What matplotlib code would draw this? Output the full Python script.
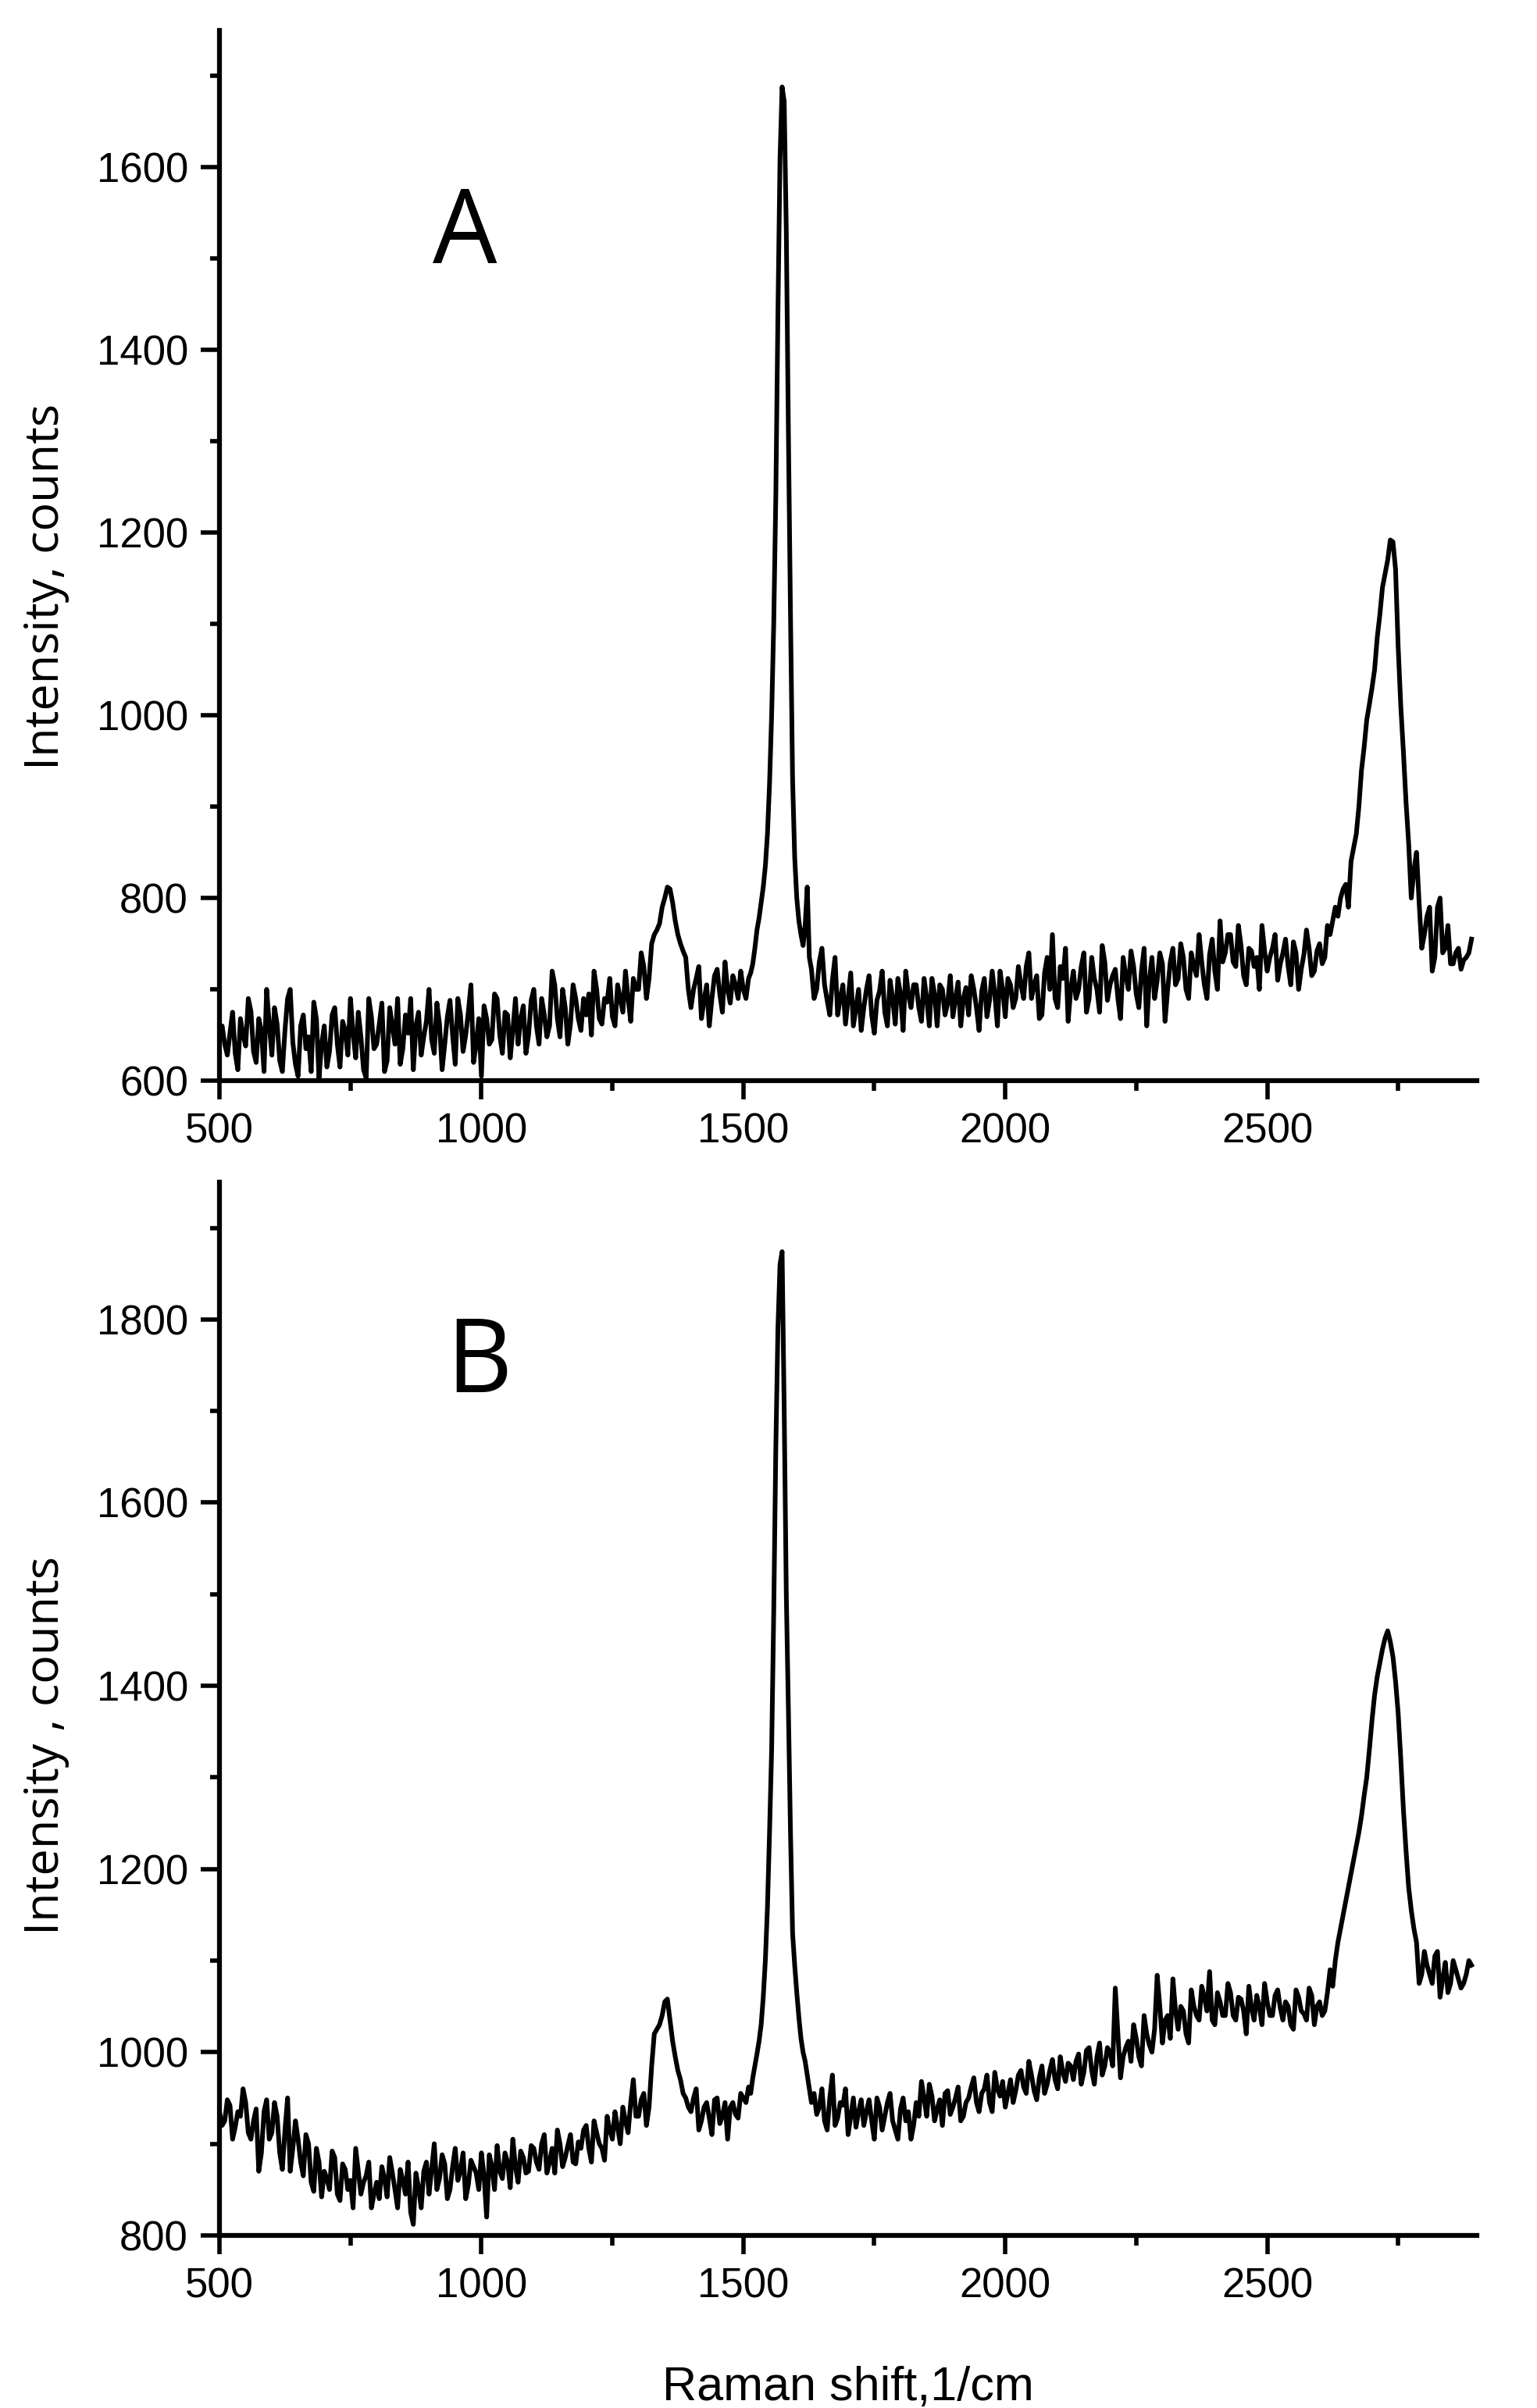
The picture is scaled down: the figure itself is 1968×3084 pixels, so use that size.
import numpy as np
import matplotlib
matplotlib.use("Agg")
import matplotlib.pyplot as plt
from matplotlib.ticker import MultipleLocator

# Raman shift grid (1/cm): baseline every 10, in-between samples offset by 5,
# finer sampling across the G band
shift_lo = np.arange(500, 1520, 10)
shift_lo_mid = np.arange(505, 1515, 10)
shift_g = np.arange(1514, 1630, 4)
shift_hi = np.arange(1630, 2900, 10)
shift_hi_mid = np.arange(1635, 2895, 10)

# Spectrum A (counts)
a_lo = [645, 640, 652, 630, 668, 638, 676, 620, 655, 700,
        628, 662, 610, 690, 642, 605, 672, 648, 686, 603,
        660, 632, 680, 615, 655, 690, 625, 648, 603, 670,
        640, 685, 622, 660, 690, 635, 652, 612, 675, 648,
        700, 630, 662, 640, 688, 618, 672, 650, 705, 640,
        605, 668, 645, 690, 630, 672, 655, 640, 682, 650,
        700, 640, 672, 660, 705, 648, 680, 662, 690, 655,
        672, 650, 700, 662, 686, 670, 705, 675, 690, 712,
        700, 725, 712, 760, 772, 800, 810, 775, 750, 735,
        680, 712, 668, 705, 690, 722, 675, 700, 715, 690,
        700, 712]
a_lo_mid = [660, 628, 675, 612, 650, 690, 632, 668, 610, 662,
            680, 622, 655, 700, 618, 660, 635, 610, 668, 640,
            615, 672, 640, 665, 628, 652, 675, 612, 690, 635,
            662, 610, 680, 640, 618, 672, 690, 660, 628, 665,
            645, 685, 612, 670, 650, 690, 632, 675, 620, 668,
            682, 640, 695, 650, 675, 625, 690, 668, 630, 688,
            660, 690, 648, 720, 668, 700, 640, 705, 668, 690,
            695, 720, 668, 690, 712, 660, 690, 720, 665, 700,
            740, 690, 750, 765, 790, 812, 795, 760, 742, 700,
            700, 725, 688, 660, 715, 695, 730, 685, 705, 720,
            690]
a_g = [718, 728, 745, 765, 778, 795, 812, 835, 870, 925,
       1000, 1100, 1240, 1440, 1610, 1688, 1672, 1530, 1310, 1110,
       930, 845, 800, 775, 760, 748, 770, 812, 735]
a_hi = [722, 700, 745, 688, 710, 672, 705, 690, 660, 700,
        680, 715, 652, 698, 675, 710, 662, 695, 720, 680,
        705, 665, 690, 712, 660, 700, 685, 670, 708, 690,
        672, 700, 655, 712, 688, 695, 720, 670, 705, 690,
        705, 725, 690, 715, 672, 735, 760, 680, 712, 665,
        720, 700, 740, 690, 712, 675, 730, 705, 722, 668,
        715, 742, 695, 720, 660, 735, 710, 728, 700, 745,
        712, 735, 690, 725, 760, 705, 738, 720, 775, 740,
        760, 725, 748, 705, 742, 735, 770, 720, 745, 710,
        740, 725, 752, 700, 738, 745, 720, 750, 735, 760,
        790, 800, 815, 840, 870, 940, 995, 1030, 1085, 1140,
        1170, 1190, 1075, 960, 860, 830, 795, 760, 790, 735,
        800, 745, 728, 740, 722, 735, 755]
a_hi_mid = [690, 730, 705, 672, 735, 690, 662, 718, 680, 655,
            700, 672, 688, 720, 660, 690, 712, 655, 695, 705,
            680, 712, 660, 695, 705, 672, 715, 690, 660, 702,
            715, 680, 698, 670, 720, 660, 700, 712, 680, 725,
            690, 740, 705, 668, 718, 700, 690, 725, 745, 700,
            690, 725, 675, 735, 700, 748, 688, 715, 690, 735,
            700, 725, 680, 745, 710, 690, 740, 665, 730, 705,
            750, 700, 740, 715, 730, 690, 755, 700, 730, 760,
            730, 770, 715, 745, 725, 700, 742, 735, 760, 728,
            755, 705, 740, 722, 765, 715, 742, 728, 770, 775,
            780, 810, 790, 855, 900, 965, 1012, 1050, 1110, 1155,
            1192, 1160, 1010, 905, 800, 850, 745, 780, 720, 790,
            740, 770, 728, 745, 732, 740]

# Spectrum B (counts)
b_lo = [935, 925, 942, 918, 930, 945, 905, 938, 890, 948,
        912, 930, 872, 950, 895, 905, 865, 900, 848, 880,
        870, 850, 885, 838, 872, 860, 895, 845, 865, 830,
        858, 875, 842, 868, 830, 860, 880, 812, 852, 870,
        845, 900, 862, 878, 850, 895, 870, 840, 882, 868,
        890, 820, 875, 898, 862, 880, 905, 858, 885, 870,
        895, 872, 910, 880, 868, 900, 885, 910, 878, 895,
        920, 880, 912, 895, 930, 905, 918, 940, 912, 970,
        930, 955, 940, 1020, 1030, 1055, 1035, 995, 970, 950,
        935, 960, 925, 945, 910, 950, 930, 905, 945, 928,
        950, 962]
b_lo_mid = [920, 948, 905, 935, 960, 912, 925, 870, 935, 905,
            945, 890, 915, 870, 925, 880, 910, 858, 895, 842,
            862, 892, 845, 878, 850, 830, 870, 858, 880, 845,
            840, 862, 885, 850, 872, 845, 825, 868, 830, 880,
            872, 850, 888, 840, 875, 860, 890, 855, 875, 850,
            865, 888, 850, 870, 890, 852, 875, 892, 868, 898,
            880, 900, 868, 895, 915, 875, 898, 880, 902, 915,
            895, 925, 900, 882, 915, 935, 900, 925, 945, 930,
            948, 920, 985, 1025, 1040, 1058, 1012, 980, 955, 940,
            950, 915, 940, 928, 948, 922, 945, 940, 932, 955,
            945]
b_g = [955, 972, 985, 998, 1012, 1030, 1060, 1100, 1158, 1240,
       1330, 1480, 1660, 1790, 1860, 1874, 1700, 1500, 1374, 1240,
       1130, 1095, 1065, 1038, 1015, 1000, 990, 975, 960]
b_hi = [945, 932, 960, 915, 975, 928, 942, 910, 950, 935,
        920, 948, 905, 940, 930, 955, 915, 938, 925, 905,
        945, 968, 930, 952, 938, 920, 958, 940, 962, 930,
        950, 972, 935, 960, 945, 978, 952, 940, 970, 958,
        980, 955, 975, 948, 985, 965, 992, 960, 978, 988,
        970, 998, 978, 1005, 965, 1010, 985, 1000, 1070, 972,
        1005, 990, 1015, 985, 1020, 1000, 1084, 1010, 1040, 1080,
        1025, 1045, 1010, 1050, 1035, 1060, 1088, 1030, 1055, 1040,
        1065, 1035, 1058, 1020, 1048, 1062, 1030, 1055, 1040, 1068,
        1035, 1050, 1025, 1060, 1042, 1070, 1030, 1055, 1045, 1090,
        1100, 1135, 1165, 1195, 1225, 1258, 1300, 1362, 1410, 1440,
        1460, 1432, 1370, 1265, 1180, 1135, 1075, 1110, 1085, 1105,
        1060, 1098, 1075, 1090, 1070, 1085, 1095]
b_hi_mid = [955, 940, 925, 950, 920, 945, 960, 930, 918, 948,
            935, 925, 950, 915, 945, 925, 905, 950, 935, 920,
            930, 950, 965, 925, 948, 955, 932, 950, 925, 945,
            962, 945, 955, 975, 935, 960, 968, 955, 945, 975,
            962, 990, 958, 972, 955, 980, 970, 995, 968, 985,
            990, 965, 1002, 980, 995, 975, 1005, 985, 1020, 995,
            1012, 1030, 995, 1040, 1008, 1025, 1050, 1035, 1015, 1045,
            1050, 1020, 1068, 1040, 1072, 1045, 1035, 1065, 1040, 1075,
            1040, 1060, 1045, 1072, 1035, 1050, 1075, 1040, 1062, 1048,
            1055, 1030, 1068, 1045, 1035, 1062, 1050, 1040, 1065, 1072,
            1120, 1150, 1180, 1210, 1240, 1280, 1330, 1390, 1425, 1452,
            1448, 1405, 1320, 1220, 1155, 1120, 1085, 1095, 1075, 1110,
            1080, 1065, 1100, 1080, 1075, 1100]

shift = np.concatenate([shift_lo, shift_lo_mid, shift_g, shift_hi, shift_hi_mid])
order = np.argsort(shift, kind="stable")
shift = shift[order]
spec_a = np.concatenate([a_lo, a_lo_mid, a_g, a_hi, a_hi_mid])[order]
spec_b = np.concatenate([b_lo, b_lo_mid, b_g, b_hi, b_hi_mid])[order]

tick_font = "Liberation Sans"
label_font = "Open Sans"

fig = plt.figure(figsize=(19.68, 30.84), dpi=100)
ax_a = fig.add_axes([0.1428, 0.5512, 0.8180, 0.4362])
ax_b = fig.add_axes([0.1428, 0.0717, 0.8180, 0.4374])

panels = [
    (ax_a, spec_a, (600, 1750), "Intensity, counts", "A", (969, 1495), 0.4706),
    (ax_b, spec_b, (800, 1950), "Intensity , counts", "B", (996, 1721), 0.4648),
]

for ax, spec, ylim, ylab, letter, lpos, ly in panels:
    ax.plot(shift, spec, color="black", lw=4.3)
    ax.set_xlim(500, 2900)
    ax.set_ylim(*ylim)
    for side in ["top", "right"]:
        ax.spines[side].set_visible(False)
    for side in ["left", "bottom"]:
        ax.spines[side].set_linewidth(4.5)
    ax.xaxis.set_major_locator(MultipleLocator(500))
    ax.xaxis.set_minor_locator(MultipleLocator(250))
    ax.yaxis.set_major_locator(MultipleLocator(200))
    ax.yaxis.set_minor_locator(MultipleLocator(100))
    ax.tick_params(which="major", length=17, width=4.0, pad=12, labelsize=38)
    ax.tick_params(which="minor", length=9, width=4.0)
    for lab in ax.get_xticklabels() + ax.get_yticklabels():
        lab.set_fontfamily(tick_font)
    ax.set_ylabel(ylab, fontsize=44, family=label_font, va="center")
    ax.yaxis.set_label_coords(-0.138, ly)
    ax.text(lpos[0], lpos[1], letter, fontsize=94, family=label_font,
            ha="center", va="baseline")

ax_b.set_xlabel("Raman shift,1/cm", fontsize=44, family=tick_font, va="top")
ax_b.xaxis.set_label_coords(0.5, -0.124)

fig.savefig("out.png", dpi=100)
